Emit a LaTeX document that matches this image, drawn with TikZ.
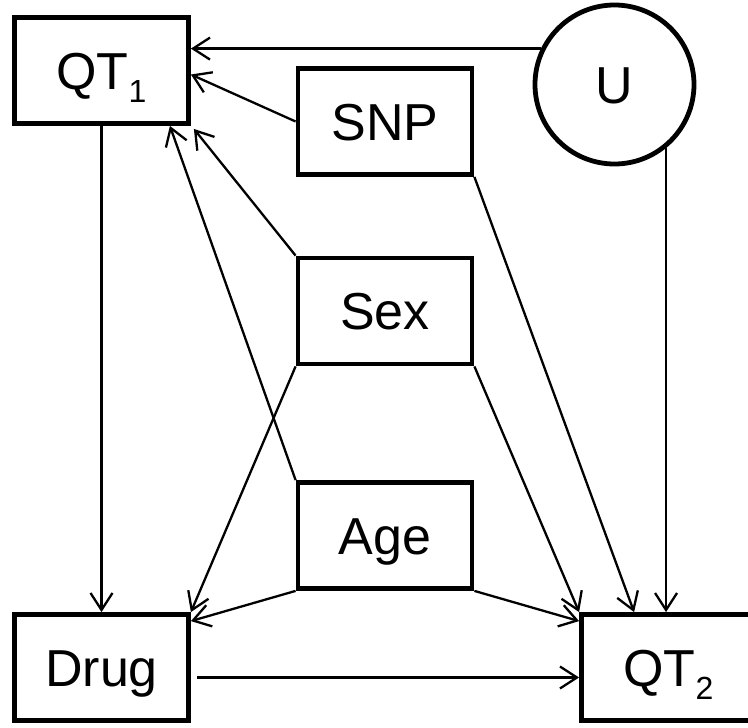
\documentclass[tikz,border=0pt]{standalone}
\usepackage{fontspec}
\setmainfont{Liberation Sans}
\usetikzlibrary{arrows.meta,positioning,calc}

\newcommand{\qtsub}[1]{\raisebox{-13pt}{\fontsize{32}{34}\selectfont #1}}

\begin{document}
\begin{tikzpicture}[x=1pt,y=-1pt,>={Straight Barb[length=17pt,width=22pt]},
    font=\fontsize{52}{60}\selectfont]
    \tikzset{
        varBox/.style={draw,line width=4.8pt,minimum width=174pt,minimum height=106pt,
            inner sep=0pt,text height=37.5pt,text depth=0pt},
        latentVar/.style={draw,circle,line width=4.8pt,minimum size=159pt,inner sep=0pt,
            text height=37.5pt,text depth=0pt},
        edge/.style={->,line width=2.3pt}
    }
    \useasboundingbox (0,0) rectangle (748,728);
    % Variables
    \node[varBox] (qtone) at (101.5,70.5) {QT\qtsub{1}};
    \node[varBox] (snp) at (385,121.5) {SNP};
    \node[latentVar] (u) at (614.5,84.5) {U};
    \node[varBox] (sex) at (385,311) {Sex};
    \node[varBox] (age) at (385,535.5) {Age};
    \node[varBox] (drug) at (101.5,667.5) {Drug};
    \node[varBox] (qttwo) at (668.5,667.5) {QT\qtsub{2}};
    % Into QT1
    \draw[edge] (u.154) -- (u.154 -| qtone.east);
    \draw[edge] (snp.west) -- ([yshift=-4pt]qtone.east);
    \draw[edge] (sex.north west) -- ([shift={(3pt,-3pt)}]qtone.south east);
    \draw[edge] (age.north west) -- ([xshift=-21pt]qtone.south east);
    % Into Drug
    \draw[edge] (qtone.south) -- (drug.north);
    \draw[edge] (sex.south west) -- (drug.north east);
    \draw[edge] (age.south west) -- ([yshift=-9pt]drug.north east);
    % Into QT2
    \draw[edge,shorten <=6pt] ([yshift=-10pt]drug.east) -- ([yshift=-10pt]qttwo.west);
    \draw[edge] (age.south east) -- ([yshift=-9pt]qttwo.north west);
    \draw[edge] (sex.south east) -- (qttwo.north west);
    \draw[edge] (snp.south east) -- ([xshift=55pt]qttwo.north west);
    \draw[edge] (u.-51) -- (u.-51 |- qttwo.north);
\end{tikzpicture}
\end{document}
